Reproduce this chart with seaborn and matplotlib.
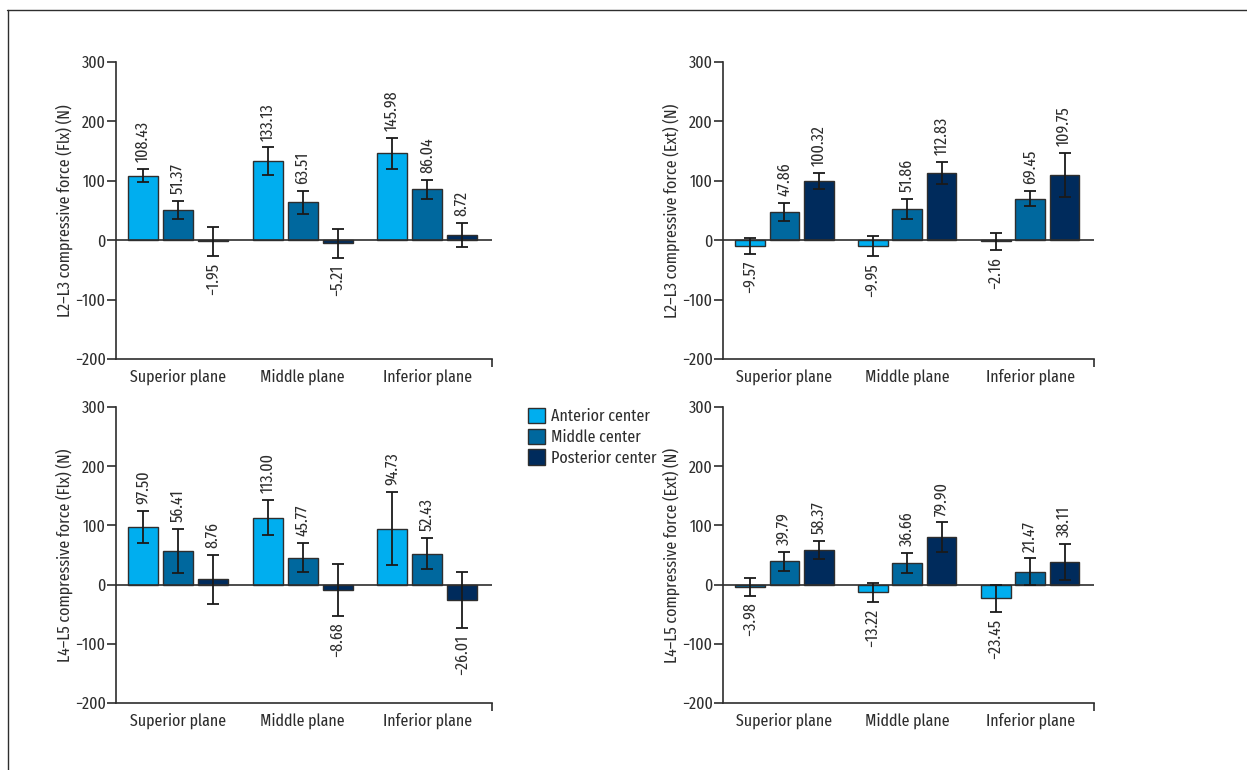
import matplotlib
matplotlib.use("Agg")
import matplotlib.pyplot as plt
from matplotlib import font_manager
from matplotlib.lines import Line2D
from matplotlib.patches import Patch
import pandas as pd
import seaborn as sns

# ---- data -------------------------------------------------------------
planes = ["Superior plane", "Middle plane", "Inferior plane"]
centers = ["Anterior center", "Middle center", "Posterior center"]
center_colors = ["#00aeef", "#00689e", "#002b5c"]

# L2–L3, flexion: mean force per center (rows) and plane (columns)
l23_flx_values = [[108.43, 133.13, 145.98],
                  [51.37, 63.51, 86.04],
                  [-1.95, -5.21, 8.72]]
l23_flx_errors = [[11.0, 23.0, 26.0],
                  [15.0, 20.0, 16.0],
                  [24.5, 24.0, 20.0]]

# L2–L3, extension
l23_ext_values = [[-9.57, -9.95, -2.16],
                  [47.86, 51.86, 69.45],
                  [100.32, 112.83, 109.75]]
l23_ext_errors = [[13.5, 17.0, 14.0],
                  [15.0, 17.0, 12.7],
                  [13.5, 19.0, 37.0]]

# L4–L5, flexion
l45_flx_values = [[97.50, 113.00, 94.73],
                  [56.41, 45.77, 52.43],
                  [8.76, -8.68, -26.01]]
l45_flx_errors = [[27.0, 30.0, 61.0],
                  [37.0, 24.0, 26.5],
                  [42.0, 44.0, 47.5]]

# L4–L5, extension
l45_ext_values = [[-3.98, -13.22, -23.45],
                  [39.79, 36.66, 21.47],
                  [58.37, 79.90, 38.11]]
l45_ext_errors = [[14.5, 16.5, 23.0],
                  [16.0, 16.5, 22.7],
                  [15.0, 25.0, 30.0]]

y_labels = ["L2\u2013L3 compressive force (Flx) (N)",
            "L2\u2013L3 compressive force (Ext) (N)",
            "L4\u2013L5 compressive force (Flx) (N)",
            "L4\u2013L5 compressive force (Ext) (N)"]
y_ticks = [-200, -100, 0, 100, 200, 300]

# ---- style ------------------------------------------------------------
sns.set_style("white")
installed = {f.name for f in font_manager.fontManager.ttflist}
narrow_candidates = ["Fira Sans Extra Condensed", "PT Sans Narrow",
                     "Barlow Condensed", "Archivo Narrow", "Roboto Condensed"]
main_font = next((f for f in narrow_candidates if f in installed), "DejaVu Sans")
plt.rcParams["font.family"] = [main_font, "DejaVu Sans"]
plt.rcParams["axes.unicode_minus"] = True

INK = "#2e2e2e"
FS = 12.5

fig = plt.figure(figsize=(12.47, 7.70), dpi=100)
W, H = 1247.0, 770.0


def px_axes(x0, x1, ytop, ybot):
    return fig.add_axes([x0 / W, 1 - ybot / H, (x1 - x0) / W, (ybot - ytop) / H])


axes = [px_axes(116, 492, 62, 359), px_axes(723, 1094, 62, 359),
        px_axes(116, 492, 407, 703), px_axes(723, 1094, 407, 703)]

panels = [(l23_flx_values, l23_flx_errors), (l23_ext_values, l23_ext_errors),
          (l45_flx_values, l45_flx_errors), (l45_ext_values, l45_ext_errors)]


def fmt(v):
    return f"{v:.2f}".replace("-", "\u2212")


for k, (ax, (vals, errs), ylab) in enumerate(zip(axes, panels, y_labels)):
    rows = []
    for ci, c in enumerate(centers):
        for pi, p in enumerate(planes):
            rows.append({"plane": p, "center": c, "force": vals[ci][pi]})
    df = pd.DataFrame(rows)

    sns.barplot(data=df, x="plane", y="force", hue="center",
                order=planes, hue_order=centers, palette=center_colors,
                saturation=1, errorbar=None, width=0.84, gap=0.14,
                edgecolor=INK, linewidth=1.0, legend=False, ax=ax)
    bar_groups = list(ax.containers)

    xmax = 2.52
    ax.set_xlim(-0.5, xmax)
    ax.set_ylim(-200, 300)

    for ci, container in enumerate(bar_groups):
        for pi, bar in enumerate(container):
            v = vals[ci][pi]
            e = errs[ci][pi]
            xc = bar.get_x() + bar.get_width() / 2
            ax.errorbar(xc, v, yerr=e, fmt="none", ecolor="#1a1a1a",
                        elinewidth=1.3, capsize=4.5, capthick=1.3, zorder=4)
            if v >= 0:
                ax.annotate(fmt(v), (xc, v + e), xytext=(0, 5),
                            textcoords="offset points", rotation=90,
                            ha="center", va="bottom", fontsize=FS, color=INK)
            else:
                ax.annotate(fmt(v), (xc, v - e), xytext=(0, -5),
                            textcoords="offset points", rotation=90,
                            ha="center", va="top", fontsize=FS, color=INK)

    # the superior anterior bar of the L4–L5 extension panel uses the middle shade
    if k == 3:
        bar_groups[0][0].set_facecolor(center_colors[1])

    ax.axhline(0, color=INK, lw=1.2, zorder=3)

    for side in ("top", "right"):
        ax.spines[side].set_visible(False)
    for side in ("left", "bottom"):
        ax.spines[side].set_color(INK)
        ax.spines[side].set_linewidth(1.2)

    ax.set_yticks(y_ticks)
    ax.tick_params(axis="y", direction="out", length=6.5, width=1.2,
                   color=INK, pad=1, labelsize=FS, labelcolor=INK, left=True)
    ax.set_xticks([0, 1, 2])
    ax.set_xticklabels(planes)
    ax.tick_params(axis="x", which="major", length=0, pad=7,
                   labelsize=FS, labelcolor=INK)
    ax.set_xticks([xmax], minor=True)
    ax.tick_params(axis="x", which="minor", direction="out", length=6,
                   width=1.2, color=INK, bottom=True)

    ax.set_xlabel("")
    ax.set_ylabel(ylab, fontsize=FS, color=INK, labelpad=1.5)

# legend between the two lower panels
handles = [Patch(facecolor=c, edgecolor=INK, linewidth=1.0) for c in center_colors]
fig.legend(handles, centers, loc="upper left",
           bbox_to_anchor=(519 / W, 1 - 399 / H), frameon=False,
           fontsize=FS, borderpad=0, handlelength=1.0, handleheight=1.0,
           handletextpad=0.35, labelspacing=0.22, labelcolor=INK)

# outer frame lines
fig.add_artist(Line2D([7 / W, 1.0], [1 - 9.5 / H, 1 - 9.5 / H],
                      transform=fig.transFigure, color=INK, lw=1.0))
fig.add_artist(Line2D([7.5 / W, 7.5 / W], [0.0, 1 - 9.5 / H],
                      transform=fig.transFigure, color=INK, lw=1.0))

fig.savefig("out.png", dpi=100, facecolor="white")
